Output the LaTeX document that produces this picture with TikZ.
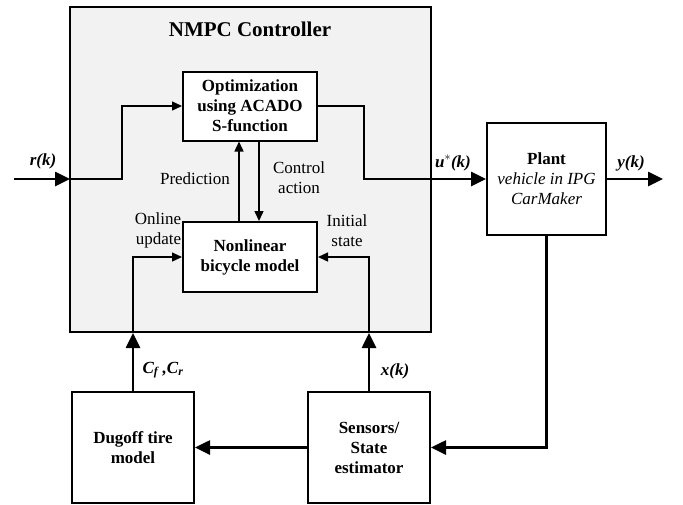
\documentclass[tikz,border=0pt]{standalone}
\usepackage{fontspec}
\setmainfont{Liberation Serif}
\usetikzlibrary{arrows.meta}
\definecolor{ctrlgray}{HTML}{F2F2F2}
\begin{document}
\begin{tikzpicture}[x=1pt,y=-1pt,
  txt/.style={font=\fontsize{17}{20}\selectfont, align=center, inner sep=0},
  lbl/.style={font=\bfseries\itshape\fontsize{17}{20}\selectfont, inner sep=0},
  blk/.style={draw, line width=2pt, fill=white, align=center, inner sep=0,
              font=\bfseries\fontsize{17}{20}\selectfont},
  thinln/.style={line width=1.4pt},
  thinarr/.style={line width=1.4pt, -{Triangle[length=10pt,width=9pt]}},
  thkln/.style={line width=2.6pt},
  thkarr/.style={line width=2.6pt, -{Triangle[length=15pt,width=14pt]}}]
\useasboundingbox (0,0) rectangle (683,504);
% NMPC container
\node[draw, line width=2pt, fill=ctrlgray, minimum width=361pt, minimum height=325pt, inner sep=0] (nmpc) at (250.5,169.5) {};
\node[font=\bfseries\fontsize{21}{24}\selectfont, inner sep=0] (title) at (250,29) {NMPC Controller};
% blocks
\node[blk, minimum width=134pt, minimum height=69pt] (opt) at (250,106) {Optimization\\using ACADO\\S-function};
\node[blk, minimum width=134pt, minimum height=70pt] (nlm) at (250,257) {Nonlinear\\bicycle model};
\node[blk, minimum width=119pt, minimum height=112pt] (plant) at (546.5,179) {Plant\\\mdseries\itshape vehicle in IPG\\\mdseries\itshape CarMaker};
\node[blk, minimum width=122pt, minimum height=111pt] (dug) at (133,447.5) {Dugoff tire\\model};
\node[blk, minimum width=122pt, minimum height=111pt] (sens) at (369,447.5) {Sensors/\\State\\estimator};
% coordinates
\coordinate (rin) at (14,179);
\coordinate (nin) at (70,179);
\coordinate (nout) at (431,179);
\coordinate (yout) at (663,179);
\coordinate (dugin) at (dug.north |- nmpc.south);
\coordinate (sensin) at (sens.north |- nmpc.south);
% connectors
\draw[thkarr] (rin) -- (nin);
\draw[thinarr] (nin) -- (122,179) |- (opt.west);
\draw[thinln] (opt.east) -- (364,106) |- (nout);
\draw[thkarr] (nout) -- (plant.west);
\draw[thkarr] (plant.east) -- (yout);
\draw[thinarr] ([xshift=-11pt]nlm.north) -- ([xshift=-11pt]opt.south);
\draw[thinarr] ([xshift=9pt]opt.south) -- ([xshift=9pt]nlm.north);
\draw[thkarr] (dug.north) -- (dugin);
\draw[thinarr] (dugin) |- (nlm.west);
\draw[thkarr] (sens.north) -- (sensin);
\draw[thinarr] (sensin) |- (nlm.east);
\draw[thkarr] (plant.south) |- (sens.east);
\draw[thkarr] (sens.west) -- (dug.east);
% labels
\node[lbl] (lr) at (43,161) {r(k)};
\node[lbl] (lu) at (453,163) {u$^{*}$(k)};
\node[lbl] (ly) at (631,163) {y(k)};
\node[lbl] (lc) at (163,370) {C\textsubscript{f} ,C\textsubscript{r}};
\node[lbl] (lx) at (395,371) {x(k)};
\node[txt] (lpred) at (195,179) {Prediction};
\node[txt] (lctrl) at (299,178) {Control\\action};
\node[txt, align=right] (lonl) at (158,230) {Online\\update};
\node[txt] (linit) at (347,231) {Initial\\state};
\end{tikzpicture}
\end{document}
